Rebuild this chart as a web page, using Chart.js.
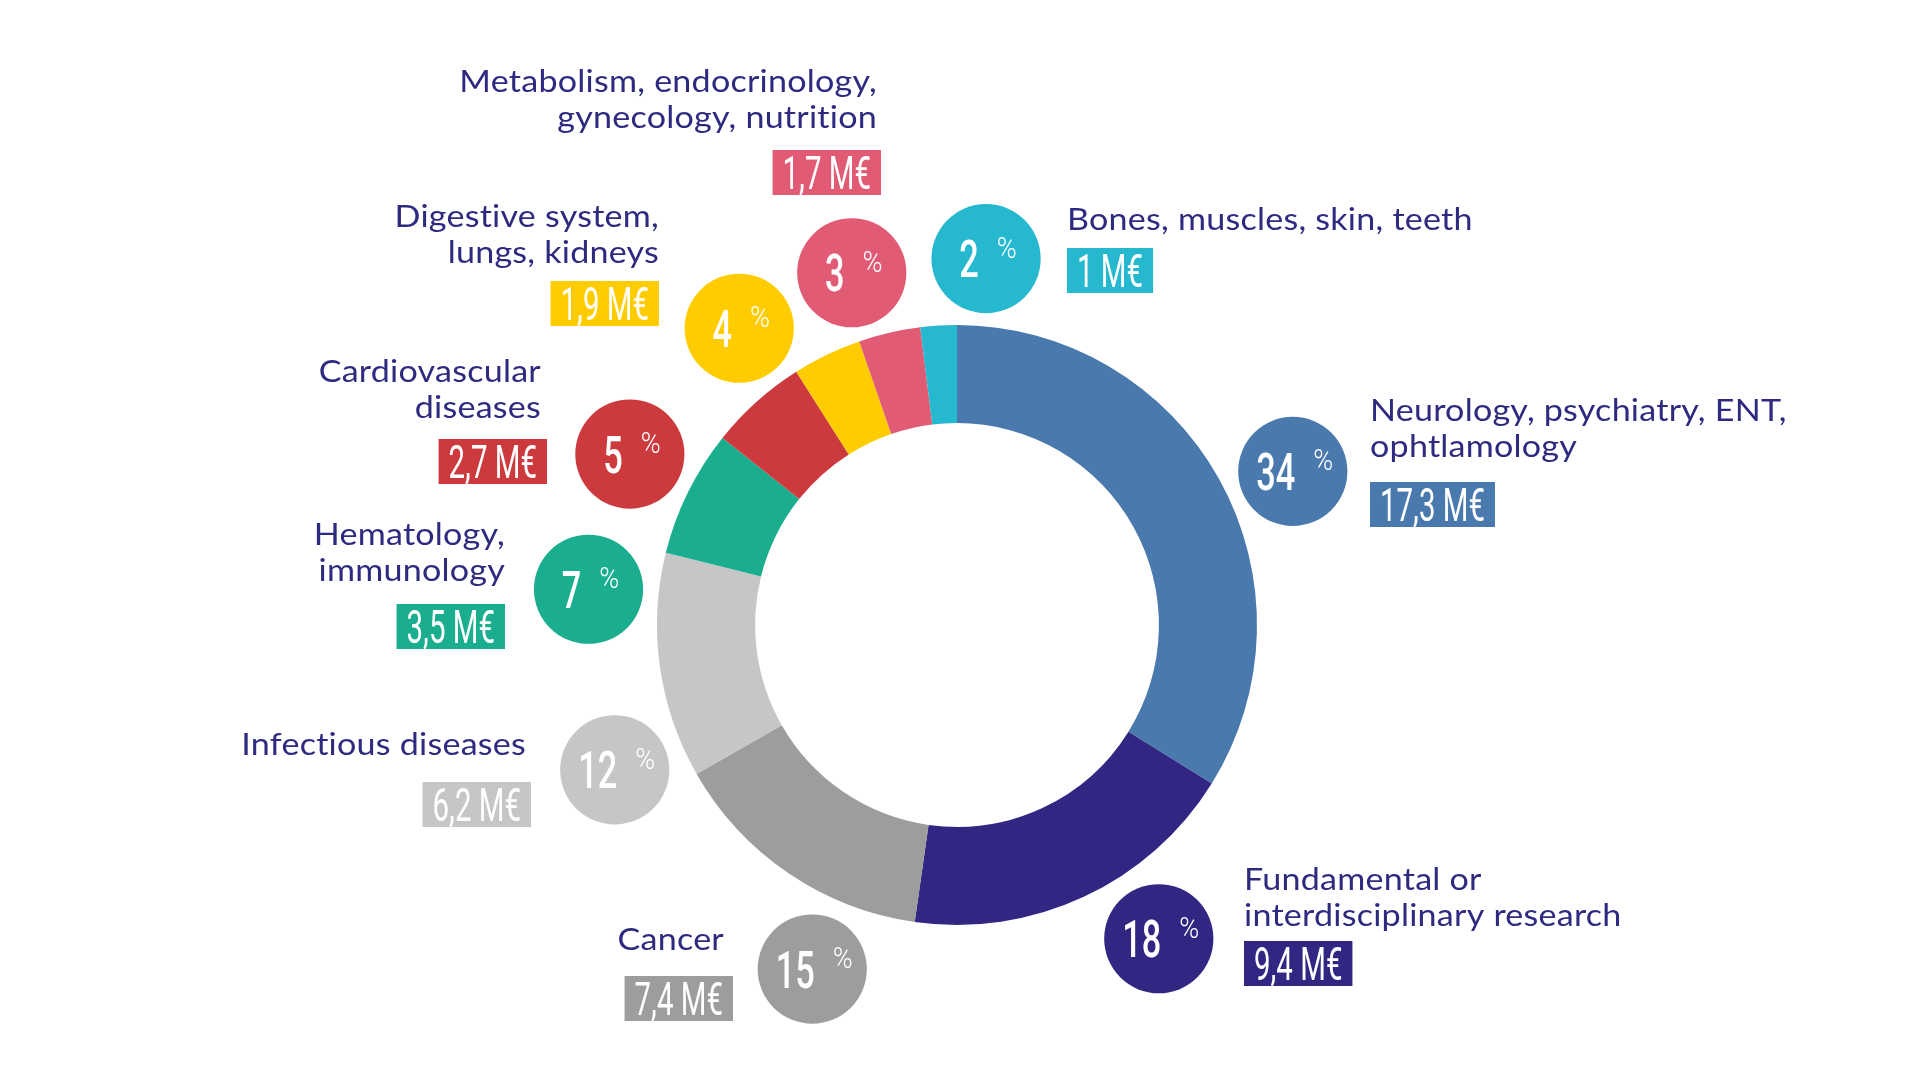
<!DOCTYPE html>
<html>
<head>
<meta charset="utf-8">
<script src="https://cdn.jsdelivr.net/npm/chart.js@4"></script>
<style>
  html, body { margin: 0; padding: 0; background: #fff; }
  #wrap { width: 1920px; height: 1080px; position: relative; }
</style>
</head>
<body>
<div id="wrap"><canvas id="chart"></canvas></div>
<script>
// data (clockwise from 12 o'clock)
const categories = [
  ['Neurology, psychiatry, ENT,', 'ophtlamology'],
  ['Fundamental or', 'interdisciplinary research'],
  ['Cancer'],
  ['Infectious diseases'],
  ['Hematology,', 'immunology'],
  ['Cardiovascular', 'diseases'],
  ['Digestive system,', 'lungs, kidneys'],
  ['Metabolism, endocrinology,', 'gynecology, nutrition'],
  ['Bones, muscles, skin, teeth']
];
const amounts = [17.3, 9.4, 7.4, 6.2, 3.5, 2.7, 1.9, 1.7, 1];   // M€
const shares = [34, 18, 15, 12, 7, 5, 4, 3, 2];                 // %
const colors = ['#4a79ae', '#312782', '#9d9d9c', '#c6c6c6', '#1aae8f', '#cc3a3e', '#ffcc00', '#e15b75', '#25b8cf'];

// callout layout: bubble angle (deg from top), label anchor offsets from the donut centre
const bubbleAngles = [65, 147, 203, 247.5, 276, 298, 324, 343.5, 4.5];
const bubbleShiftY = 3;
const labelLayout = [
  { align: 'left',  dx: 413,  dy: -214, boxDy: -143, boxDx: 413 },
  { align: 'left',  dx: 287,  dy: 255,  boxDy: 316,  boxDx: 287 },
  { align: 'right', dx: -233, dy: 315,  boxDy: 351,  boxDx: -224 },
  { align: 'right', dx: -431, dy: 120,  boxDy: 157,  boxDx: -426 },
  { align: 'right', dx: -452, dy: -90,  boxDy: -21,  boxDx: -452 },
  { align: 'right', dx: -416, dy: -253, boxDy: -186, boxDx: -410 },
  { align: 'right', dx: -298, dy: -408, boxDy: -344, boxDx: -298 },
  { align: 'right', dx: -80,  dy: -543, boxDy: -475, boxDx: -76 },
  { align: 'left',  dx: 110,  dy: -405, boxDy: -377, boxDx: 110 }
];

const textColor = '#2e2a7f';
const labelFont = '31px Lato';
const labelStretch = 1.1;
const lineGap = 35.5;
const squeeze = 0.64;

// draws horizontally scaled text (stand-in for a condensed / wide face)
function scaledText(ctx, text, x, y, font, sx, align) {
  ctx.font = font;
  const w = ctx.measureText(text).width * sx;
  let left = x;
  if (align === 'center') left = x - w / 2;
  if (align === 'right') left = x - w;
  ctx.save();
  ctx.translate(left, y);
  ctx.scale(sx, 1);
  ctx.textAlign = 'left';
  ctx.fillText(text, 0, 0);
  ctx.restore();
  return w;
}

function scaledWidth(ctx, text, font, sx) {
  ctx.font = font;
  return ctx.measureText(text).width * sx;
}

const callouts = {
  id: 'callouts',
  afterDatasetsDraw(chart) {
    const ctx = chart.ctx;
    const meta = chart.getDatasetMeta(0);
    meta.data.forEach((arc, i) => {
      const p = arc.getProps(['x', 'y', 'outerRadius'], true);
      const cx = p.x, cy = p.y, R = p.outerRadius;

      // bubble with share
      const a = (bubbleAngles[i] - 90) * Math.PI / 180;
      const bx = cx + R * 1.235 * Math.cos(a);
      const by = cy + R * 1.235 * Math.sin(a) + bubbleShiftY;
      ctx.save();
      ctx.fillStyle = colors[i];
      ctx.beginPath();
      ctx.arc(bx, by, R * 0.182, 0, Math.PI * 2);
      ctx.fill();

      ctx.fillStyle = '#fff';
      ctx.textBaseline = 'alphabetic';
      const numFont = '500 52px Roboto';
      const pctFont = '300 30px Roboto';
      const numW = scaledWidth(ctx, String(shares[i]), numFont, 0.66);
      const pctW = scaledWidth(ctx, '%', pctFont, 0.9);
      const gap = 18;
      const start = bx - (numW + gap + pctW) / 2 + 2;
      scaledText(ctx, String(shares[i]), start, by + 18.5, numFont, 0.66, 'left');
      scaledText(ctx, '%', start + numW + gap, by - 1, pctFont, 0.9, 'left');
      ctx.restore();

      // category text
      const L = labelLayout[i];
      ctx.save();
      ctx.fillStyle = textColor;
      ctx.textBaseline = 'middle';
      ctx.letterSpacing = '0.2px';
      categories[i].forEach((line, k) => {
        scaledText(ctx, line, cx + L.dx, cy + L.dy + k * lineGap, labelFont, labelStretch, L.align);
      });
      ctx.restore();

      // amount box
      const label = String(amounts[i]).replace('.', ',') + ' M€';
      const boxFont = '400 46px Roboto';
      const tw = scaledWidth(ctx, label, boxFont, squeeze);
      const bw = tw + 20, bh = 45;
      const bxLeft = L.align === 'left' ? cx + L.boxDx : cx + L.boxDx - bw;
      const byTop = cy + L.boxDy;
      ctx.save();
      ctx.fillStyle = colors[i];
      ctx.fillRect(bxLeft, byTop, bw, bh);
      ctx.fillStyle = '#fff';
      ctx.textBaseline = 'alphabetic';
      scaledText(ctx, label, bxLeft + 10, byTop + bh / 2 + 16.5, boxFont, squeeze, 'left');
      ctx.restore();
    });
  }
};

new Chart(document.getElementById('chart'), {
  type: 'doughnut',
  data: {
    labels: categories.map(c => c.join(' ')),
    datasets: [{
      data: amounts,
      backgroundColor: colors,
      borderWidth: 0
    }]
  },
  options: {
    responsive: true,
    maintainAspectRatio: false,
    animation: false,
    cutout: '67.3%',
    layout: { padding: { top: 325, bottom: 155, left: 0, right: 6 } },
    plugins: {
      legend: { display: false },
      tooltip: { enabled: false }
    }
  },
  plugins: [callouts]
});
</script>
</body>
</html>
